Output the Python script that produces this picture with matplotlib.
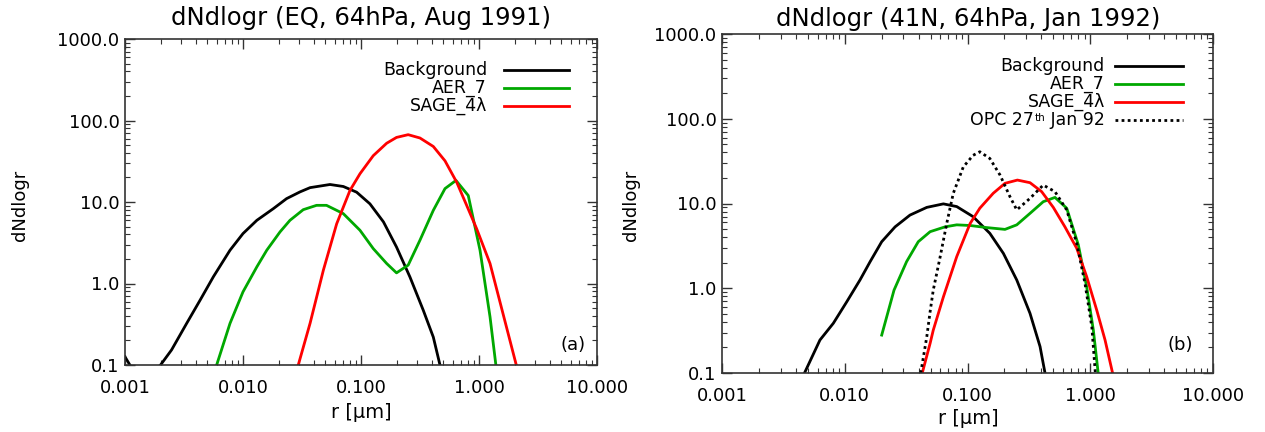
import numpy as np
import matplotlib
matplotlib.use("Agg")
import matplotlib.pyplot as plt
from matplotlib.ticker import FixedLocator, LogLocator, NullFormatter, FixedFormatter

# ---------------- data ----------------
# Panel (a): EQ, 64hPa, Aug 1991
a_bg_r = [0.001, 0.0011, 0.0014, 0.002, 0.00248, 0.00333, 0.00433, 0.00561, 0.00776, 0.010,
          0.0131, 0.0181, 0.0234, 0.0304, 0.037, 0.0546, 0.0708, 0.0918, 0.119, 0.155,
          0.20, 0.26, 0.337, 0.41, 0.467]
a_bg_v = [0.126, 0.1, 0.06, 0.1, 0.153, 0.324, 0.625, 1.21, 2.56, 4.1,
          5.96, 8.3, 11.0, 13.3, 15.0, 16.4, 15.5, 13.2, 9.5, 5.7,
          2.8, 1.2, 0.47, 0.22, 0.1]
a_aer_r = [0.00598, 0.00776, 0.010, 0.0131, 0.0159, 0.0206, 0.025, 0.0324, 0.042, 0.051,
           0.0708, 0.098, 0.127, 0.165, 0.20, 0.251, 0.316, 0.41, 0.515, 0.638,
           0.811, 1.02, 1.24, 1.39]
a_aer_v = [0.1, 0.324, 0.79, 1.6, 2.56, 4.3, 5.96, 8.05, 9.1, 9.1,
           7.2, 4.5, 2.68, 1.76, 1.35, 1.68, 3.4, 7.9, 14.6, 18.4,
           12.0, 2.56, 0.39, 0.1]
a_sage_r = [0.0294, 0.037, 0.048, 0.0622, 0.0807, 0.098, 0.127, 0.165, 0.20, 0.251,
            0.316, 0.41, 0.515, 0.647, 0.786, 0.955, 1.24, 1.57, 2.07]
a_sage_v = [0.1, 0.324, 1.46, 5.4, 13.9, 22.2, 37.0, 52.6, 62.0, 67.0,
            61.0, 48.0, 32.0, 17.5, 9.1, 4.7, 1.76, 0.47, 0.1]

# Panel (b): 41N, 64hPa, Jan 1992
b_bg_r = [0.0047, 0.00628, 0.00807, 0.0104, 0.0133, 0.0161, 0.020, 0.0257, 0.034, 0.0466,
          0.0636, 0.0817, 0.111, 0.152, 0.196, 0.252, 0.323, 0.39, 0.428]
b_bg_v = [0.1, 0.245, 0.386, 0.695, 1.25, 2.06, 3.54, 5.3, 7.3, 9.0,
          9.9, 9.2, 7.0, 4.45, 2.58, 1.25, 0.506, 0.205, 0.1]
b_aer_r = [0.020, 0.0252, 0.0319, 0.0397, 0.0496, 0.0656, 0.0817, 0.105, 0.143, 0.202,
           0.252, 0.323, 0.414, 0.516, 0.643, 0.80, 0.935, 1.06, 1.16]
b_aer_v = [0.28, 0.95, 2.06, 3.54, 4.65, 5.3, 5.6, 5.5, 5.2, 4.95,
           5.6, 7.65, 10.5, 11.8, 8.8, 3.24, 1.04, 0.32, 0.1]
b_sage_r = [0.0428, 0.0496, 0.0526, 0.0636, 0.0817, 0.105, 0.126, 0.162, 0.202, 0.255,
            0.323, 0.402, 0.50, 0.622, 0.776, 0.935, 1.13, 1.32, 1.52]
b_sage_v = [0.1, 0.224, 0.32, 0.79, 2.36, 5.8, 8.8, 13.2, 17.3, 18.9,
            17.6, 13.8, 9.0, 5.3, 2.96, 1.37, 0.55, 0.245, 0.1]
b_opc_r = [0.0416, 0.0466, 0.0496, 0.0526, 0.0597, 0.0677, 0.0766, 0.0924, 0.111, 0.126,
           0.152, 0.184, 0.222, 0.252, 0.323, 0.414, 0.516, 0.643, 0.776, 0.906,
           1.03, 1.10]
b_opc_v = [0.1, 0.268, 0.53, 0.95, 2.3, 5.8, 13.2, 27.0, 37.0, 40.8,
           34.0, 21.7, 12.0, 8.4, 11.5, 16.5, 13.8, 8.4, 3.4, 1.14,
           0.35, 0.1]

titles = ["dNdlogr (EQ, 64hPa, Aug 1991)", "dNdlogr (41N, 64hPa, Jan 1992)"]
panel_tags = ["(a)", "(b)"]
x_ticks = [0.001, 0.01, 0.1, 1.0, 10.0]
x_ticklabels = ["0.001", "0.010", "0.100", "1.000", "10.000"]
y_ticks = [0.1, 1.0, 10.0, 100.0, 1000.0]
y_ticklabels = ["0.1", "1.0", "10.0", "100.0", "1000.0"]
labels = ["Background", "AER_7", "SAGE_4\u03bb", ("OPC 27", "th", " Jan 92")]

GREEN = "#00a800"
RED = "#ff0000"
W, H = 1265, 432

plt.rcParams['font.family'] = ['DejaVu Sans']
fig = plt.figure(figsize=(12.65, 4.32), dpi=100)

def px_axes(l, r, t, b):
    return fig.add_axes([l / W, (H - b) / H, (r - l) / W, (b - t) / H])

axA = px_axes(125, 597, 39, 365)
axB = px_axes(722, 1213, 34, 373)

LW = 2.0
DOT = (0, (1, 1.2))
axA.plot(a_bg_r, a_bg_v, color="black", lw=LW)
axA.plot(a_aer_r, a_aer_v, color=GREEN, lw=LW)
axA.plot(a_sage_r, a_sage_v, color=RED, lw=LW)

axB.plot(b_bg_r, b_bg_v, color="black", lw=LW)
axB.plot(b_aer_r, b_aer_v, color=GREEN, lw=LW)
axB.plot(b_sage_r, b_sage_v, color=RED, lw=LW)
axB.plot(b_opc_r, b_opc_v, color="black", lw=LW, ls=DOT)

for ax in (axA, axB):
    ax.set_xscale("log")
    ax.set_yscale("log")
    ax.set_xlim(0.001, 10)
    ax.set_ylim(0.1, 1000)
    ax.xaxis.set_major_locator(FixedLocator(x_ticks))
    ax.xaxis.set_major_formatter(FixedFormatter(x_ticklabels))
    ax.yaxis.set_major_locator(FixedLocator(y_ticks))
    ax.yaxis.set_major_formatter(FixedFormatter(y_ticklabels))
    ax.xaxis.set_minor_locator(LogLocator(base=10, subs=np.arange(2, 10)))
    ax.yaxis.set_minor_locator(LogLocator(base=10, subs=np.arange(2, 10)))
    ax.xaxis.set_minor_formatter(NullFormatter())
    ax.yaxis.set_minor_formatter(NullFormatter())
    ax.tick_params(which="both", direction="in", top=True, right=True, color="#333333")
    ax.tick_params(which="major", length=7, width=1.0)
    ax.tick_params(which="minor", length=3.5, width=0.8)
    ax.tick_params(axis="x", which="major", pad=10, labelsize=13)
    ax.tick_params(axis="y", which="major", pad=4, labelsize=13)
    for s in ax.spines.values():
        s.set_color("#333333")
        s.set_linewidth(1.2)

renderer = fig.canvas.get_renderer()
LFS = 12.5

def right_text(ax, x, y, s, **kw):
    t = ax.text(x, y, s, transform=ax.transAxes, ha="right", va="center", fontsize=LFS, **kw)
    return t

def legend(ax, ys, text_x, line_x0, line_x1, entries):
    for y, (lab, col, ls) in zip(ys, entries):
        if isinstance(lab, tuple):
            main1, sup, main2 = lab
            t2 = right_text(ax, text_x, y, main2)
            bb = t2.get_window_extent(renderer)
            xs = ax.transAxes.inverted().transform((bb.x0, 0))[0]
            ts = ax.text(xs, y + 0.022, sup, transform=ax.transAxes, ha="right", va="top",
                         fontsize=7.5)
            bb2 = ts.get_window_extent(renderer)
            xs2 = ax.transAxes.inverted().transform((bb2.x0, 0))[0]
            right_text(ax, xs2, y, main1)
        else:
            right_text(ax, text_x, y, lab)
        ax.plot([line_x0, line_x1], [y, y], transform=ax.transAxes, color=col, lw=LW,
                ls=ls, clip_on=False)

legend(axA, [0.905, 0.850, 0.794], 0.767, 0.803, 0.941,
       [(labels[0], "black", "-"), (labels[1], GREEN, "-"), (labels[2], RED, "-")])
legend(axB, [0.906, 0.853, 0.800, 0.745], 0.780, 0.800, 0.939,
       [(labels[0], "black", "-"), (labels[1], GREEN, "-"), (labels[2], RED, "-"),
        (labels[3], "black", DOT)])

axA.text(0.949, 0.061, panel_tags[0], transform=axA.transAxes, ha="center", va="center", fontsize=13)
axB.text(0.933, 0.083, panel_tags[1], transform=axB.transAxes, ha="center", va="center", fontsize=13)

# titles and axis labels at measured pixel positions
fig.text(361 / W, 1 - 18 / H, titles[0], ha="center", va="center", fontsize=17.5)
fig.text(968 / W, 1 - 19 / H, titles[1], ha="center", va="center", fontsize=17.5)
fig.text(20 / W, 1 - 205 / H, "dNdlogr", rotation=90, ha="center", va="center", fontsize=13)
fig.text(631 / W, 1 - 205 / H, "dNdlogr", rotation=90, ha="center", va="center", fontsize=13)
fig.text(361 / W, 1 - 413 / H, "r [\u03bcm]", ha="center", va="center", fontsize=14)
fig.text(968 / W, 1 - 418 / H, "r [\u03bcm]", ha="center", va="center", fontsize=14)

fig.savefig("out.png", dpi=100)
